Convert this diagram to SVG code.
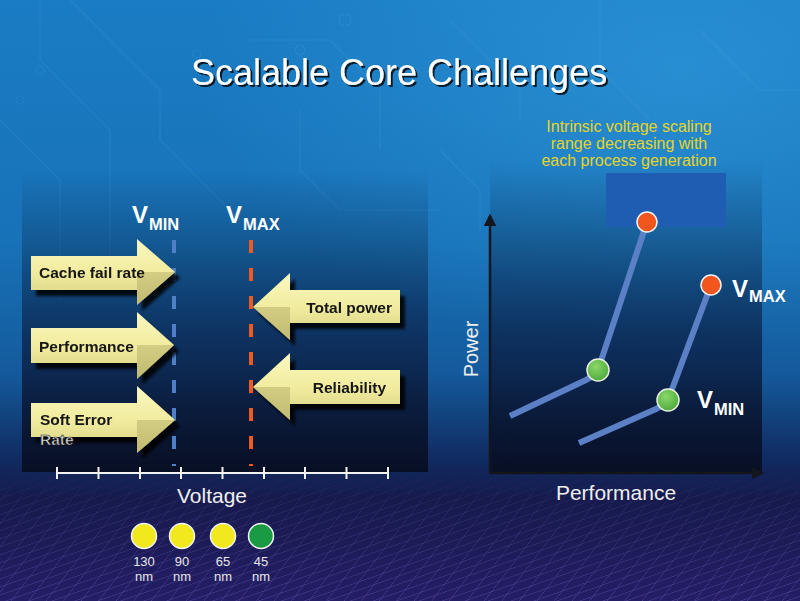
<svg xmlns="http://www.w3.org/2000/svg" width="800" height="601" viewBox="0 0 800 601">
<defs>
<linearGradient id="bg" x1="0" y1="0" x2="0" y2="1">
<stop offset="0" stop-color="#1a7cc4"/>
<stop offset="0.4" stop-color="#1872b8"/>
<stop offset="0.62" stop-color="#145a9c"/>
<stop offset="0.77" stop-color="#10295e"/>
<stop offset="0.83" stop-color="#161a4c"/>
<stop offset="1" stop-color="#241e66"/>
</linearGradient>
<radialGradient id="hl" cx="0.85" cy="0.15" r="0.6">
<stop offset="0" stop-color="#3aa8e8" stop-opacity="0.45"/>
<stop offset="1" stop-color="#3aa8e8" stop-opacity="0"/>
</radialGradient>
<linearGradient id="panel" x1="0" y1="0" x2="0" y2="1">
<stop offset="0" stop-color="#08203f" stop-opacity="0"/>
<stop offset="0.2" stop-color="#08203f" stop-opacity="0.25"/>
<stop offset="0.55" stop-color="#0a1e44" stop-opacity="0.7"/>
<stop offset="1" stop-color="#080f24" stop-opacity="1"/>
</linearGradient>
<linearGradient id="arrowFill" x1="0" y1="0" x2="0" y2="1">
<stop offset="0" stop-color="#fbf8c2"/>
<stop offset="0.5" stop-color="#f1ec9e"/>
<stop offset="1" stop-color="#d6cf82"/>
</linearGradient>
<radialGradient id="greenBall" cx="0.4" cy="0.35" r="0.7">
<stop offset="0" stop-color="#8ad868"/>
<stop offset="1" stop-color="#4aa83a"/>
</radialGradient>
<filter id="shadow" x="-20%" y="-20%" width="150%" height="150%">
<feGaussianBlur in="SourceAlpha" stdDeviation="1.5"/>
<feOffset dx="5" dy="6" result="b"/>
<feComponentTransfer><feFuncA type="linear" slope="0.85"/></feComponentTransfer>
<feMerge><feMergeNode/><feMergeNode in="SourceGraphic"/></feMerge>
</filter>
<filter id="tshadow" x="-5%" y="-20%" width="110%" height="150%">
<feGaussianBlur in="SourceAlpha" stdDeviation="0.6"/>
<feOffset dx="2" dy="2"/>
<feComponentTransfer><feFuncA type="linear" slope="0.8"/></feComponentTransfer>
<feMerge><feMergeNode/><feMergeNode in="SourceGraphic"/></feMerge>
</filter>
<pattern id="grid" width="24" height="11" patternUnits="userSpaceOnUse" patternTransform="matrix(1,-0.35,-0.77,1,0,0)">
<path d="M0,0.5 H24 M0.5,0 V11" fill="none" stroke="#7a6cc8" stroke-width="0.8"/>
</pattern>
<linearGradient id="gridFade" x1="0" y1="0" x2="0" y2="1">
<stop offset="0" stop-color="#fff" stop-opacity="0"/>
<stop offset="0.3" stop-color="#fff" stop-opacity="0.25"/>
<stop offset="1" stop-color="#fff" stop-opacity="0.5"/>
</linearGradient>
<mask id="gm"><rect x="0" y="470" width="800" height="131" fill="url(#gridFade)"/></mask>
<marker id="axArrow" viewBox="0 0 10 10" refX="8" refY="5" markerWidth="5" markerHeight="5" orient="auto" markerUnits="strokeWidth">
<path d="M0,0 L10,5 L0,10 z" fill="#14161e"/>
</marker>
<style>
.lbl{font-family:"Liberation Sans",Arial,sans-serif;font-weight:bold;font-size:15.5px;fill:#141414}
.v{font-family:"Liberation Sans",Arial,sans-serif;font-weight:bold;fill:#ffffff}
.ax{font-family:"Liberation Sans",Arial,sans-serif;fill:#eeeeee}
.cap{font-family:"Liberation Sans",Arial,sans-serif;font-size:16px;fill:#e6d424;text-anchor:middle}
.nm{font-family:"Liberation Sans",Arial,sans-serif;font-size:13px;fill:#e6e6e6;text-anchor:middle}
.trace{fill:none;stroke:#6cc0f0;stroke-opacity:0.13;stroke-width:1.2}
.arrow{fill:url(#arrowFill)}
.bevel{fill:#9c9450;opacity:0.35}
.curve{fill:none;stroke:#5b80c6;stroke-width:6}
.axis{stroke:#14161e;stroke-width:2.5;fill:none}
</style>
</defs>

<!-- background -->
<rect x="0" y="0" width="800" height="601" fill="url(#bg)"/>
<rect x="0" y="0" width="800" height="470" fill="url(#hl)"/>
<rect x="0" y="470" width="800" height="131" fill="url(#grid)" mask="url(#gm)"/>
<g id="traces">
<path class="trace" d="M40,0 L40,60 L110,130 L110,260"/>
<path class="trace" d="M70,0 L160,90 L160,140 L240,220"/>
<path class="trace" d="M0,120 L60,180 L60,300"/>
<path class="trace" d="M250,40 L330,40 L380,90 L380,150"/>
<path class="trace" d="M300,110 L300,170 L340,210 L440,210"/>
<path class="trace" d="M450,20 L520,90 L520,120"/>
<path class="trace" d="M600,0 L600,70 L650,120"/>
<path class="trace" d="M700,30 L760,90 L800,90"/>
<path class="trace" d="M440,150 L480,190 L480,230"/>
<circle class="trace" cx="40" cy="70" r="4"/>
<circle class="trace" cx="300" cy="50" r="5"/>
<circle class="trace" cx="345" cy="20" r="6"/>
<circle class="trace" cx="197" cy="54" r="4"/>
<circle class="trace" cx="20" cy="100" r="4"/>
</g>

<!-- panels -->
<rect id="left-panel" x="22" y="170" width="406" height="302" fill="url(#panel)"/>
<rect id="right-panel" x="490" y="160" width="272" height="313" fill="url(#panel)"/>

<!-- title -->
<g id="title" filter="url(#tshadow)">
<text x="399" y="85" text-anchor="middle" font-family="Liberation Sans, Arial, sans-serif" font-size="36" fill="#ffffff">Scalable Core Challenges</text>
</g>

<!-- left chart: voltage lines -->
<g id="connectors">
<line x1="174" y1="240" x2="174" y2="466" stroke="#4f7fc6" stroke-width="4" stroke-dasharray="13,15"/>
<line x1="251" y1="240" x2="251" y2="466" stroke="#f05a1e" stroke-width="4" stroke-dasharray="13,15"/>
<!-- voltage axis -->
<path d="M57,473 H388 M57,467 V479 M98.5,467 V479 M140,467 V479 M181,467 V479 M222.5,467 V479 M264,467 V479 M305,467 V479 M346.5,467 V479 M388,467 V479" stroke="#f2f2f2" stroke-width="2" fill="none"/>
<!-- power/performance axes -->
<line class="axis" x1="490" y1="474" x2="490" y2="216" marker-end="url(#axArrow)"/>
<line class="axis" x1="489" y1="473" x2="762" y2="473" marker-end="url(#axArrow)"/>
<path class="curve" d="M510,416 L586,380 Q594,376 598,370 L647,222"/>
<path class="curve" d="M579,443 L656,409 Q664,405 668,400 L711,285"/>
</g>

<g id="vmin-label"><text class="v" x="132" y="223" font-size="24">V</text><text class="v" x="149" y="230" font-size="16.5">MIN</text></g>
<g id="vmax-label"><text class="v" x="226" y="223" font-size="24">V</text><text class="v" x="243" y="230" font-size="16.5">MAX</text></g>

<!-- arrows -->
<g id="arrow-cache" filter="url(#shadow)">
<polygon class="arrow" points="31,256 137,256 137,239 175,272 137,305 137,290 31,290"/>
<polygon class="bevel" points="137,272 175,272 137,305"/>
<text class="lbl" x="39" y="278">Cache fail rate</text>
</g>
<g id="arrow-performance" filter="url(#shadow)">
<polygon class="arrow" points="31,328 137,328 137,312 174,345 137,379 137,363 31,363"/>
<polygon class="bevel" points="137,345 174,345 137,379"/>
<text class="lbl" x="39" y="352">Performance</text>
</g>
<g id="arrow-soft-error" filter="url(#shadow)">
<polygon class="arrow" points="31,403 137,403 137,386 175,420 137,453 137,437 31,437"/>
<polygon class="bevel" points="137,420 175,420 137,453"/>
<text class="lbl" x="40" y="425">Soft Error</text>
</g>
<text x="40" y="445" font-family="Liberation Sans, Arial, sans-serif" font-weight="bold" font-size="15.5" fill="#d8d8d8" stroke="#202020" stroke-width="0.6">Rate</text>
<g id="arrow-total-power" filter="url(#shadow)">
<polygon class="arrow" points="400,290 290,290 290,273 253,307 290,340 290,323 400,323"/>
<polygon class="bevel" points="290,307 253,307 290,340"/>
<text class="lbl" x="392" y="313" text-anchor="end">Total power</text>
</g>
<g id="arrow-reliability" filter="url(#shadow)">
<polygon class="arrow" points="400,370 290,370 290,353 253,387 290,420 290,404 400,404"/>
<polygon class="bevel" points="290,387 253,387 290,420"/>
<text class="lbl" x="386" y="393" text-anchor="end">Reliability</text>
</g>

<text class="ax" x="212" y="503" font-size="21" text-anchor="middle">Voltage</text>

<!-- process nodes -->
<g id="node-130"><circle cx="144" cy="536" r="12.5" fill="#f2e81e" stroke="#f4f4f4" stroke-width="1.5"/><text class="nm" x="144" y="566">130</text><text class="nm" x="144" y="581">nm</text></g>
<g id="node-90"><circle cx="182" cy="536" r="12.5" fill="#f2e81e" stroke="#f4f4f4" stroke-width="1.5"/><text class="nm" x="182" y="566">90</text><text class="nm" x="182" y="581">nm</text></g>
<g id="node-65"><circle cx="223" cy="536" r="12.5" fill="#f2e81e" stroke="#f4f4f4" stroke-width="1.5"/><text class="nm" x="223" y="566">65</text><text class="nm" x="223" y="581">nm</text></g>
<g id="node-45"><circle cx="261" cy="536" r="12.5" fill="#1a9a42" stroke="#f4f4f4" stroke-width="1.5"/><text class="nm" x="261" y="566">45</text><text class="nm" x="261" y="581">nm</text></g>

<!-- right chart -->
<g id="caption">
<text class="cap" x="629" y="132">Intrinsic voltage scaling</text>
<text class="cap" x="629" y="149">range decreasing with</text>
<text class="cap" x="629" y="166">each process generation</text>
</g>
<rect id="range-box" x="606" y="173" width="120" height="54" fill="#1f5db2"/>
<g id="pt-vmin-1"><circle cx="598" cy="370" r="11" fill="url(#greenBall)" stroke="#e8f0e0" stroke-width="1.5"/></g>
<g id="pt-vmax-1"><circle cx="647" cy="222" r="10" fill="#f0561e" stroke="#f4f4f4" stroke-width="1.5"/></g>
<g id="pt-vmin-2"><circle cx="668" cy="400" r="11" fill="url(#greenBall)" stroke="#e8f0e0" stroke-width="1.5"/></g>
<g id="pt-vmax-2"><circle cx="711" cy="285" r="10" fill="#f0561e" stroke="#f4f4f4" stroke-width="1.5"/></g>
<g id="vmax-right"><text class="v" x="732" y="297" font-size="24">V</text><text class="v" x="749" y="302" font-size="16.5">MAX</text></g>
<g id="vmin-right"><text class="v" x="697" y="408" font-size="24">V</text><text class="v" x="714" y="415" font-size="16.5">MIN</text></g>
<text class="ax" transform="translate(478,349) rotate(-90)" font-size="20" text-anchor="middle">Power</text>
<text class="ax" x="616" y="500" font-size="21" text-anchor="middle">Performance</text>
</svg>
